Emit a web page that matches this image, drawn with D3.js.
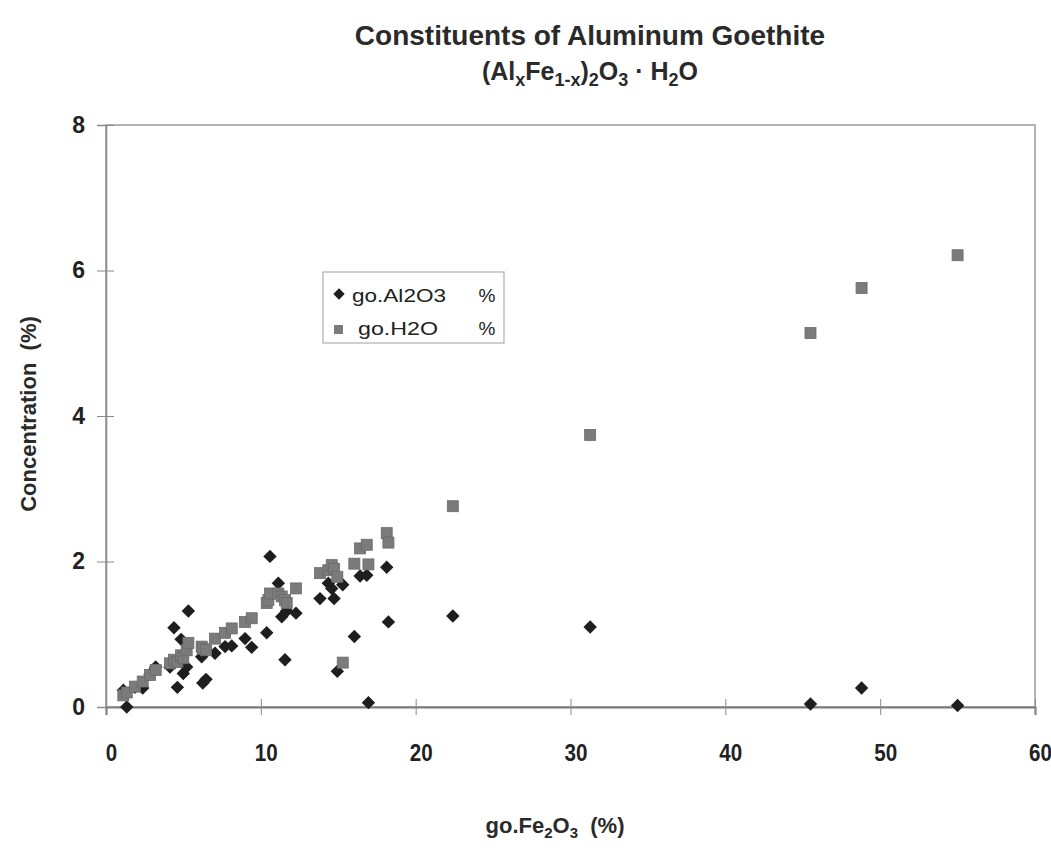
<!DOCTYPE html>
<html>
<head>
<meta charset="utf-8">
<script src="https://cdn.jsdelivr.net/npm/d3@7"></script>
<style>
  html, body { margin: 0; padding: 0; background: #ffffff; }
  svg { display: block; font-family: "Liberation Sans", Arial, sans-serif; }
</style>
</head>
<body>
<svg id="chart" width="1051" height="853"></svg>
<script>
// Sample composition: Fe2O3 content and the matching Al2O3 and H2O concentrations (%)
const fe2o3 = [1.12, 1.34, 1.87, 2.37, 2.84, 3.21, 4.13, 4.39, 4.61, 4.85, 4.99, 5.21, 5.32,
  6.18, 6.25, 6.46, 7.04, 7.69, 8.12, 8.98, 9.41, 10.38, 10.49, 10.59, 11.13, 11.35, 11.56,
  11.67, 12.27, 13.82, 14.36, 14.58, 14.73, 14.94, 15.29, 16.04, 16.41, 16.84, 16.95, 18.13,
  18.24, 22.4, 31.27, 45.5, 48.8, 55.0];
const al2o3 = [0.23, 0.00, 0.27, 0.26, 0.45, 0.55, 0.55, 1.09, 0.27, 0.93, 0.46, 0.55, 1.32,
  0.69, 0.33, 0.38, 0.74, 0.83, 0.84, 0.94, 0.82, 1.02, 1.50, 2.07, 1.70, 1.24, 0.65,
  1.32, 1.29, 1.49, 1.70, 1.63, 1.49, 0.49, 1.68, 0.97, 1.80, 1.81, 0.06, 1.92,
  1.17, 1.25, 1.10, 0.04, 0.26, 0.02];
const h2o = [0.16, 0.20, 0.28, 0.35, 0.44, 0.51, 0.60, 0.65, 0.62, 0.71, 0.67, 0.78, 0.88,
  0.83, 0.80, 0.78, 0.94, 1.02, 1.08, 1.17, 1.22, 1.43, 1.47, 1.56, 1.56, 1.52, 1.47,
  1.43, 1.63, 1.84, 1.88, 1.95, 1.90, 1.79, 0.61, 1.97, 2.18, 2.23, 1.96, 2.39,
  2.26, 2.76, 3.74, 5.14, 5.76, 6.21];

const xTicks = [0, 10, 20, 30, 40, 50, 60];
const yTicks = [0, 2, 4, 6, 8];
const seriesNames = ["go.Al2O3", "go.H2O"];

const svg = d3.select("#chart");
const plot = { left: 106, right: 1035, top: 125, bottom: 707 };

const x = d3.scaleLinear().domain([0, 60]).range([plot.left, plot.right]);
const y = d3.scaleLinear().domain([0, 8]).range([plot.bottom, plot.top]);

// Plot area frame
svg.append("rect")
  .attr("x", plot.left).attr("y", plot.top)
  .attr("width", plot.right - plot.left).attr("height", plot.bottom - plot.top)
  .attr("fill", "none").attr("stroke", "#9a9a9a").attr("stroke-width", 1.5);

// Axes with ticks crossing the axis line
const xAxis = svg.append("g")
  .attr("transform", `translate(0,${plot.bottom})`)
  .call(d3.axisBottom(x).tickValues(xTicks).tickSize(8).tickFormat(d3.format("d")));
xAxis.select(".domain").attr("stroke", "#7a7a7a").attr("stroke-width", 2.2);
xAxis.selectAll(".tick line").attr("stroke", "#8a8a8a").attr("stroke-width", 1).attr("y1", -8).attr("y2", 8);
xAxis.selectAll(".tick text")
  .attr("y", 37).attr("dy", "0.71em")
  .attr("transform", "translate(5,0) scale(0.86,1)")
  .attr("font-size", 24).attr("font-weight", "bold").attr("fill", "#222");

const yAxis = svg.append("g")
  .attr("transform", `translate(${plot.left},0)`)
  .call(d3.axisLeft(y).tickValues(yTicks).tickSize(9).tickFormat(d3.format("d")));
yAxis.select(".domain").attr("stroke", "#8a8a8a").attr("stroke-width", 1.5);
yAxis.selectAll(".tick line").attr("stroke", "#8a8a8a").attr("stroke-width", 1).attr("x1", -9).attr("x2", 8);
yAxis.selectAll(".tick text")
  .attr("x", -21)
  .attr("font-size", 23).attr("font-weight", "bold").attr("fill", "#222");

// Al2O3 markers: diamonds
const diamondSize = 9.5;
svg.append("g").selectAll("rect")
  .data(fe2o3.map((v, i) => ({ fe: v, val: al2o3[i] })))
  .join("rect")
  .attr("x", -diamondSize / 2).attr("y", -diamondSize / 2)
  .attr("width", diamondSize).attr("height", diamondSize)
  .attr("transform", d => `translate(${x(d.fe)},${y(d.val)}) rotate(45)`)
  .attr("fill", "#1e1e1e");

// H2O markers: squares
const squareSize = 11;
svg.append("g").selectAll("rect")
  .data(fe2o3.map((v, i) => ({ fe: v, val: h2o[i] })))
  .join("rect")
  .attr("x", d => x(d.fe) - squareSize / 2)
  .attr("y", d => y(d.val) - squareSize / 2)
  .attr("width", squareSize).attr("height", squareSize)
  .attr("fill", "#7b7b7b").attr("stroke", "#6a6a6a").attr("stroke-width", 0.8);

// Legend
const legend = svg.append("g").attr("transform", "translate(323,272)");
legend.append("rect").attr("width", 181).attr("height", 71)
  .attr("fill", "#fff").attr("stroke", "#b0b0b0").attr("stroke-width", 1.2);
legend.append("rect")
  .attr("x", -4).attr("y", -4).attr("width", 8).attr("height", 8)
  .attr("transform", "translate(16,22) rotate(45)").attr("fill", "#1e1e1e");
legend.append("rect")
  .attr("x", 11).attr("y", 53).attr("width", 9).attr("height", 9)
  .attr("fill", "#7b7b7b");
const legendRows = [
  { label: seriesNames[0], tx: 29, ty: 30, w: 94 },
  { label: seriesNames[1], tx: 35, ty: 63, w: 80 }
];
legendRows.forEach(r => {
  legend.append("text").attr("x", r.tx).attr("y", r.ty)
    .attr("font-size", 19).attr("fill", "#222")
    .attr("textLength", r.w).attr("lengthAdjust", "spacingAndGlyphs")
    .text(r.label);
  legend.append("text").attr("x", 164).attr("y", r.ty).attr("text-anchor", "middle")
    .attr("font-size", 19).attr("fill", "#222").text("%");
});

// Title
svg.append("text").attr("x", 590).attr("y", 45)
  .attr("text-anchor", "middle").attr("font-size", 28).attr("font-weight", "bold").attr("fill", "#2a2a2a")
  .text("Constituents of Aluminum Goethite");
const formula = svg.append("text").attr("x", 590).attr("y", 80)
  .attr("text-anchor", "middle").attr("font-size", 25).attr("font-weight", "bold").attr("fill", "#2a2a2a");
const sub = (t) => formula.append("tspan").attr("font-size", 18).attr("dy", 6).text(t);
const base = (t) => formula.append("tspan").attr("font-size", 25).attr("dy", -6).text(t);
formula.append("tspan").text("(Al");
sub("x"); base("Fe"); sub("1-x"); base(")"); sub("2"); base("O"); sub("3"); base(" · H"); sub("2"); base("O");

// Axis titles
const xTitle = svg.append("text").attr("x", 555).attr("y", 833)
  .attr("text-anchor", "middle").attr("font-size", 22).attr("font-weight", "bold").attr("fill", "#2a2a2a")
  .attr("xml:space", "preserve");
xTitle.append("tspan").text("go.Fe");
xTitle.append("tspan").attr("font-size", 15).attr("dy", 5).text("2");
xTitle.append("tspan").attr("dy", -5).text("O");
xTitle.append("tspan").attr("font-size", 15).attr("dy", 5).text("3");
xTitle.append("tspan").attr("dy", -5).text("  (%)");

svg.append("text")
  .attr("transform", "translate(36,414) rotate(-90)")
  .attr("text-anchor", "middle").attr("font-size", 22).attr("font-weight", "bold").attr("fill", "#2a2a2a")
  .attr("xml:space", "preserve")
  .text("Concentration  (%)");
</script>
</body>
</html>
